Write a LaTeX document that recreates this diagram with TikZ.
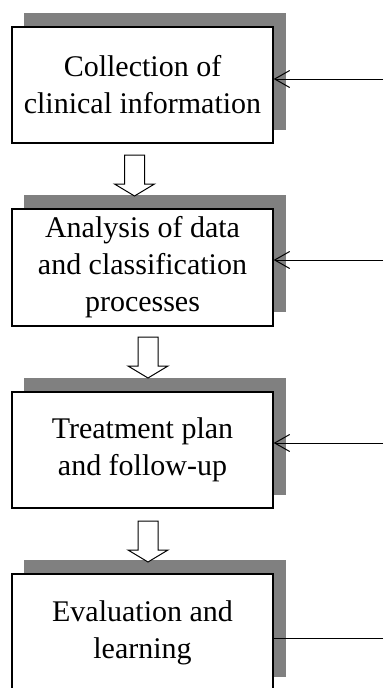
\documentclass[tikz,border=0pt]{standalone}
\usepackage{fontspec}
\setmainfont{Liberation Serif}
\usetikzlibrary{arrows.meta}
\definecolor{shadowgray}{HTML}{808080}
\begin{document}
\begin{tikzpicture}[x=1pt,y=-1pt,
  box/.style={draw=black, line width=1.3pt, fill=white, minimum width=261pt, minimum height=116pt, inner sep=0pt, align=center, font=\fontsize{30}{37}\selectfont},
  shadowbox/.style={fill=shadowgray, minimum width=262pt, minimum height=117pt, inner sep=0pt},
  feed/.style={line width=1pt, -{Straight Barb[length=15pt,width=17pt,line width=1pt]}},
  feedplain/.style={line width=1pt},
  blockarrow/.style={draw=black, line width=1pt, fill=white, line join=miter}]
\useasboundingbox (0,0) rectangle (383,688);
\clip (0,0) rectangle (383,688);
% shadows
\node[shadowbox] (s1) at (154.5,71) {};
\node[shadowbox] (s2) at (154.5,253.5) {};
\node[shadowbox] (s3) at (154.5,436) {};
\node[shadowbox] (s4) at (154.5,618.5) {};
% boxes
\node[box] (b1) at (142.5,85) {Collection of\\clinical information};
\node[box, minimum height=117pt] (b2) at (142.5,267.5) {Analysis of data\\and classification\\processes};
\node[box] (b3) at (142.5,450) {Treatment plan\\and follow-up};
\node[box, minimum height=117pt] (b4) at (142.5,632.5) {Evaluation and\\learning};
% hollow arrows
\coordinate (a1) at (134.5,155);
\coordinate (a2) at (148,337);
\coordinate (a3) at (148,521);
\foreach \a in {a1,a2,a3}{
  \draw[blockarrow] (\a) ++(-10,0) -- ++(0,29) -- ++(-10,0) -- ++(20,12) -- ++(20,-12) -- ++(-10,0) -- ++(0,-29) -- cycle;
}
% feedback lines
\coordinate (f1) at (383,79);
\coordinate (f2) at (383,260);
\coordinate (f3) at (383,443);
\coordinate (f4) at (383,638);
\draw[feed] (f1) -- (f1 -| b1.east);
\draw[feed] (f2) -- (f2 -| b2.east);
\draw[feed] (f3) -- (f3 -| b3.east);
\draw[feedplain] (f4) -- (f4 -| b4.east);
\end{tikzpicture}
\end{document}
